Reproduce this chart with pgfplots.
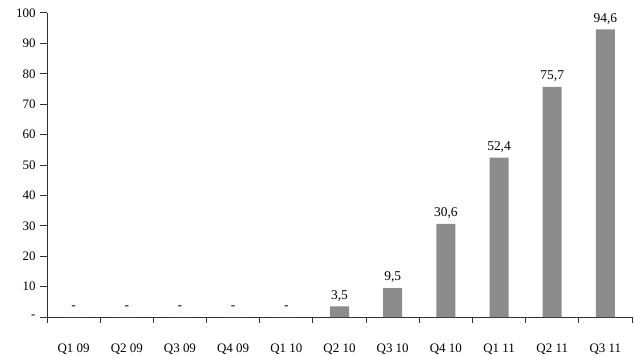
\documentclass[border=0pt]{standalone}
\usepackage{pgfplots}
\pgfplotsset{compat=1.18}
\usepackage{pgfplotstable}
\usepackage{fontspec}
\setmainfont{Liberation Serif}
\definecolor{bargray}{HTML}{8C8C8C}
\pgfplotstableread{
x y lab
0 0 -
1 0 -
2 0 -
3 0 -
4 0 -
5 3.5 3,5
6 9.5 9,5
7 30.6 30,6
8 52.4 52,4
9 75.7 75,7
10 94.6 94,6
}\data
\begin{document}
\begin{tikzpicture}
\path[use as bounding box] (-47bp,-39bp) rectangle (587bp,317bp);
\begin{axis}[
  at={(0,0)}, anchor=south west,
  scale only axis, width=585bp, height=304bp,
  xmin=-0.5, xmax=10.5, ymin=0, ymax=100,
  axis x line*=bottom, axis y line*=left,
  axis line style={-, black!80, line width=1pt},
  xtick={0,...,10},
  xticklabels={Q1 09,Q2 09,Q3 09,Q4 09,Q1 10,Q2 10,Q3 10,Q4 10,Q1 11,Q2 11,Q3 11},
  minor xtick={-0.5,0.5,1.5,2.5,3.5,4.5,5.5,6.5,7.5,8.5,9.5,10.5},
  major x tick style={draw=none},
  ytick={0,10,...,100},
  yticklabels={-,10,20,30,40,50,60,70,80,90,100},
  tick align=outside,
  major tick length=7bp, minor tick length=6bp,
  tick style={black!80, line width=1pt},
  tick label style={font=\fontsize{13}{15}\selectfont, black},
  yticklabel style={xshift=-1bp},
  xticklabel style={yshift=-16bp},
  /pgf/number format/assume math mode=true,
  ybar, bar width=19bp,
  nodes near coords,
  point meta=explicit symbolic,
  nodes near coords style={font=\fontsize{13.5}{15}\selectfont, black, anchor=south, inner sep=7bp, text depth=0pt},
  clip=false,
]
\addplot[fill=bargray, draw=none] table[x=x, y=y, meta=lab] {\data};
\end{axis}
\end{tikzpicture}
\end{document}
